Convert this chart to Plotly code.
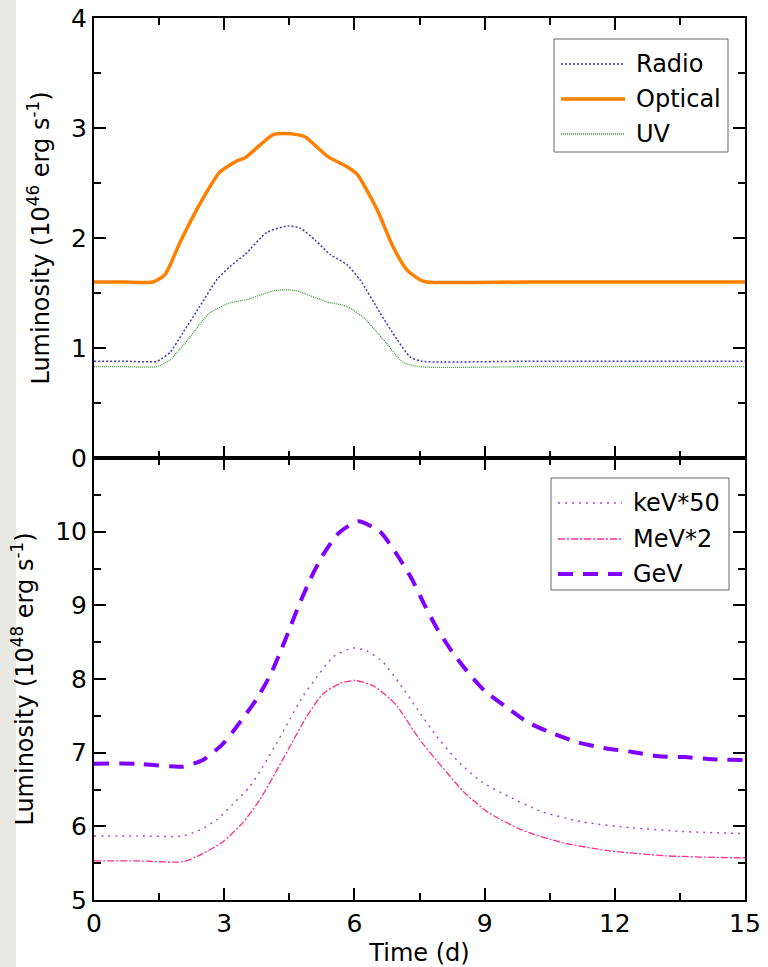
import plotly.graph_objects as go
from plotly.subplots import make_subplots

# ---------------- data ----------------
radio_t = [0, 0.7, 1.45, 1.75, 2.05, 2.44, 2.83, 3.13, 3.48, 3.98, 4.47, 4.75, 5.1, 5.44, 5.82, 6.13, 6.59, 6.98, 7.28, 7.55, 10, 15]
radio_v = [0.88, 0.88, 0.88, 0.96, 1.14, 1.38, 1.62, 1.74, 1.85, 2.05, 2.11, 2.09, 1.98, 1.85, 1.76, 1.62, 1.32, 1.08, 0.92, 0.88, 0.88, 0.88]

optical_t = [0, 0.7, 1.36, 1.64, 1.98, 2.37, 2.63, 2.90, 3.29, 3.48, 3.75, 4.13, 4.4, 4.67, 4.86, 5.39, 5.82, 6.06, 6.52, 6.89, 7.21, 7.51, 7.67, 10, 15]
optical_v = [1.60, 1.60, 1.60, 1.67, 1.96, 2.26, 2.44, 2.60, 2.70, 2.73, 2.82, 2.94, 2.95, 2.94, 2.92, 2.74, 2.65, 2.58, 2.26, 1.92, 1.71, 1.62, 1.60, 1.60, 1.60]

uv_t = [0, 0.7, 1.45, 1.75, 2.21, 2.67, 3.13, 3.52, 4.13, 4.4, 4.67, 5.36, 5.82, 6.2, 6.66, 7.12, 7.51, 10, 15]
uv_v = [0.83, 0.83, 0.83, 0.89, 1.10, 1.32, 1.41, 1.44, 1.52, 1.53, 1.52, 1.42, 1.38, 1.28, 1.08, 0.87, 0.83, 0.83, 0.83]

kev_t = [0, 1.0, 2.05, 2.44, 2.83, 3.2, 3.59, 3.89, 4.22, 4.52, 4.82, 5.14, 5.51, 5.97, 6.29, 6.66, 7.05, 7.44, 7.86, 8.39, 8.94, 9.54, 10.32, 11.24, 12.4, 13.55, 15]
kev_v = [5.87, 5.87, 5.87, 5.95, 6.09, 6.30, 6.54, 6.81, 7.14, 7.46, 7.77, 8.03, 8.30, 8.42, 8.38, 8.23, 7.93, 7.60, 7.25, 6.88, 6.60, 6.41, 6.20, 6.06, 5.98, 5.93, 5.90]

mev_t = [0, 1.0, 2.05, 2.44, 2.97, 3.43, 3.82, 4.22, 4.52, 4.91, 5.28, 5.67, 6.01, 6.43, 6.82, 7.0, 7.5, 8.0, 8.55, 9.08, 9.86, 10.78, 11.84, 13.16, 15]
mev_v = [5.53, 5.53, 5.52, 5.61, 5.79, 6.05, 6.36, 6.77, 7.09, 7.50, 7.80, 7.94, 7.98, 7.91, 7.73, 7.62, 7.18, 6.82, 6.45, 6.19, 5.95, 5.78, 5.67, 5.60, 5.57]

gev_t = [0, 1.0, 2.03, 2.51, 2.97, 3.36, 3.75, 4.06, 4.33, 4.52, 4.70, 4.98, 5.25, 5.62, 6.08, 6.59, 7.0, 7.32, 7.63, 7.90, 8.25, 8.59, 9.0, 9.52, 10.0, 10.62, 11.15, 11.77, 12.4, 13.0, 13.6, 14.24, 15]
gev_v = [6.85, 6.85, 6.81, 6.90, 7.12, 7.41, 7.73, 8.05, 8.42, 8.70, 8.97, 9.35, 9.66, 9.97, 10.14, 10.0, 9.67, 9.36, 8.99, 8.69, 8.37, 8.11, 7.84, 7.61, 7.41, 7.25, 7.14, 7.06, 7.01, 6.95, 6.94, 6.91, 6.90]

x_ticks = [0, 3, 6, 9, 12, 15]
x_tick_labels = ["0", "3", "6", "9", "12", "15"]
top_y_ticks = [0, 1, 2, 3, 4]
bot_y_ticks = [5, 6, 7, 8, 9, 10]

top_series = [
    ("Radio", radio_t, radio_v, "#3b3bb3", 1.5, "2px,2px"),
    ("Optical", optical_t, optical_v, "#ff8000", 3.5, "solid"),
    ("UV", uv_t, uv_v, "#3aa03a", 1.3, "1px,1px"),
]
bot_series = [
    ("keV*50", kev_t, kev_v, "#a64dcc", 1.5, "2px,5px"),
    ("MeV*2", mev_t, mev_v, "#ff2e8a", 1.3, "7px,2px,2px,2px"),
    ("GeV", gev_t, gev_v, "#7f00ff", 4, "15px,10px"),
]

FONT = "DejaVu Sans, Arial, sans-serif"
FS = 24
TFS = 25

fig = make_subplots(rows=2, cols=1, vertical_spacing=0, row_heights=[440, 442])

for row, series in ((1, top_series), (2, bot_series)):
    for name, t, v, color, width, dash in series:
        fig.add_trace(go.Scatter(
            x=t, y=v, name=name, mode="lines", showlegend=False,
            line=dict(color=color, width=width, dash=dash, shape="spline", smoothing=0.6)),
            row=row, col=1)

axis_common = dict(
    showline=True, linecolor="black", linewidth=2, mirror="allticks",
    ticks="inside", ticklen=12, tickwidth=2, tickcolor="black",
    showgrid=False, zeroline=False, automargin=False,
    tickfont=dict(family=FONT, size=TFS, color="black"),
)

def minor(d):
    return dict(ticks="inside", ticklen=7, tickwidth=2, dtick=d, tickcolor="black")

fig.update_xaxes(row=1, col=1, range=[0, 15], tickvals=x_ticks,
                 ticktext=["" for _ in x_tick_labels],
                 minor=minor(1.5), **axis_common)
fig.update_xaxes(row=2, col=1, range=[0, 15], tickvals=x_ticks, ticktext=x_tick_labels,
                 minor=minor(1.5),
                 title=dict(text="Time (d)", font=dict(family=FONT, size=FS)),
                 **axis_common)
fig.update_yaxes(row=1, col=1, range=[0, 4], tickvals=top_y_ticks, minor=minor(0.5),
                 title=dict(text="Luminosity (10<sup>46</sup> erg s<sup>-1</sup>)",
                            font=dict(family=FONT, size=FS)),
                 **axis_common)
fig.update_yaxes(row=2, col=1, range=[5, 11], tickvals=bot_y_ticks, minor=minor(0.5),
                 title=dict(text="Luminosity (10<sup>48</sup> erg s<sup>-1</sup>)",
                            font=dict(family=FONT, size=FS)),
                 **axis_common)

# ---- legends drawn as boxes in paper space (pixel layout -> paper fractions) ----
PL, PR, PT, PB = 94, 745, 18, 900
def px(xp):
    return (xp - PL) / (PR - PL)
def py(yp):
    return (PB - yp) / (PB - PT)

shapes = [dict(type="rect", xref="paper", yref="paper",
               x0=px(0), x1=px(16), y0=py(967), y1=py(0),
               fillcolor="#e9e9e4", line=dict(width=0), layer="below")]
annotations = []

def legend_box(series, box, line_x, text_x, rows_y):
    x0, x1, y0, y1 = box
    shapes.append(dict(type="rect", xref="paper", yref="paper",
                       x0=px(x0), x1=px(x1), y0=py(y1), y1=py(y0),
                       fillcolor="white", line=dict(color="#666666", width=1), layer="above"))
    for (name, _t, _v, color, width, dash), yy in zip(series, rows_y):
        shapes.append(dict(type="line", xref="paper", yref="paper",
                           x0=px(line_x[0]), x1=px(line_x[1]), y0=py(yy), y1=py(yy),
                           line=dict(color=color, width=width, dash=dash), layer="above"))
        annotations.append(dict(text=name, xref="paper", yref="paper",
                                x=px(text_x), y=py(yy), xanchor="left", yanchor="middle",
                                showarrow=False, font=dict(family=FONT, size=FS, color="black")))

legend_box(top_series, (554, 728, 39, 152), (561, 625), 634, [64, 99, 134])
legend_box(bot_series, (551, 729, 478, 590), (558, 622), 631, [503, 539, 574])

fig.update_layout(
    width=768, height=967,
    margin=dict(l=PL, r=768 - PR, t=PT, b=967 - PB),
    paper_bgcolor="white", plot_bgcolor="white",
    font=dict(family=FONT, size=FS, color="black"),
    showlegend=False,
    shapes=shapes,
    annotations=annotations,
)

fig.write_html("out.html")
